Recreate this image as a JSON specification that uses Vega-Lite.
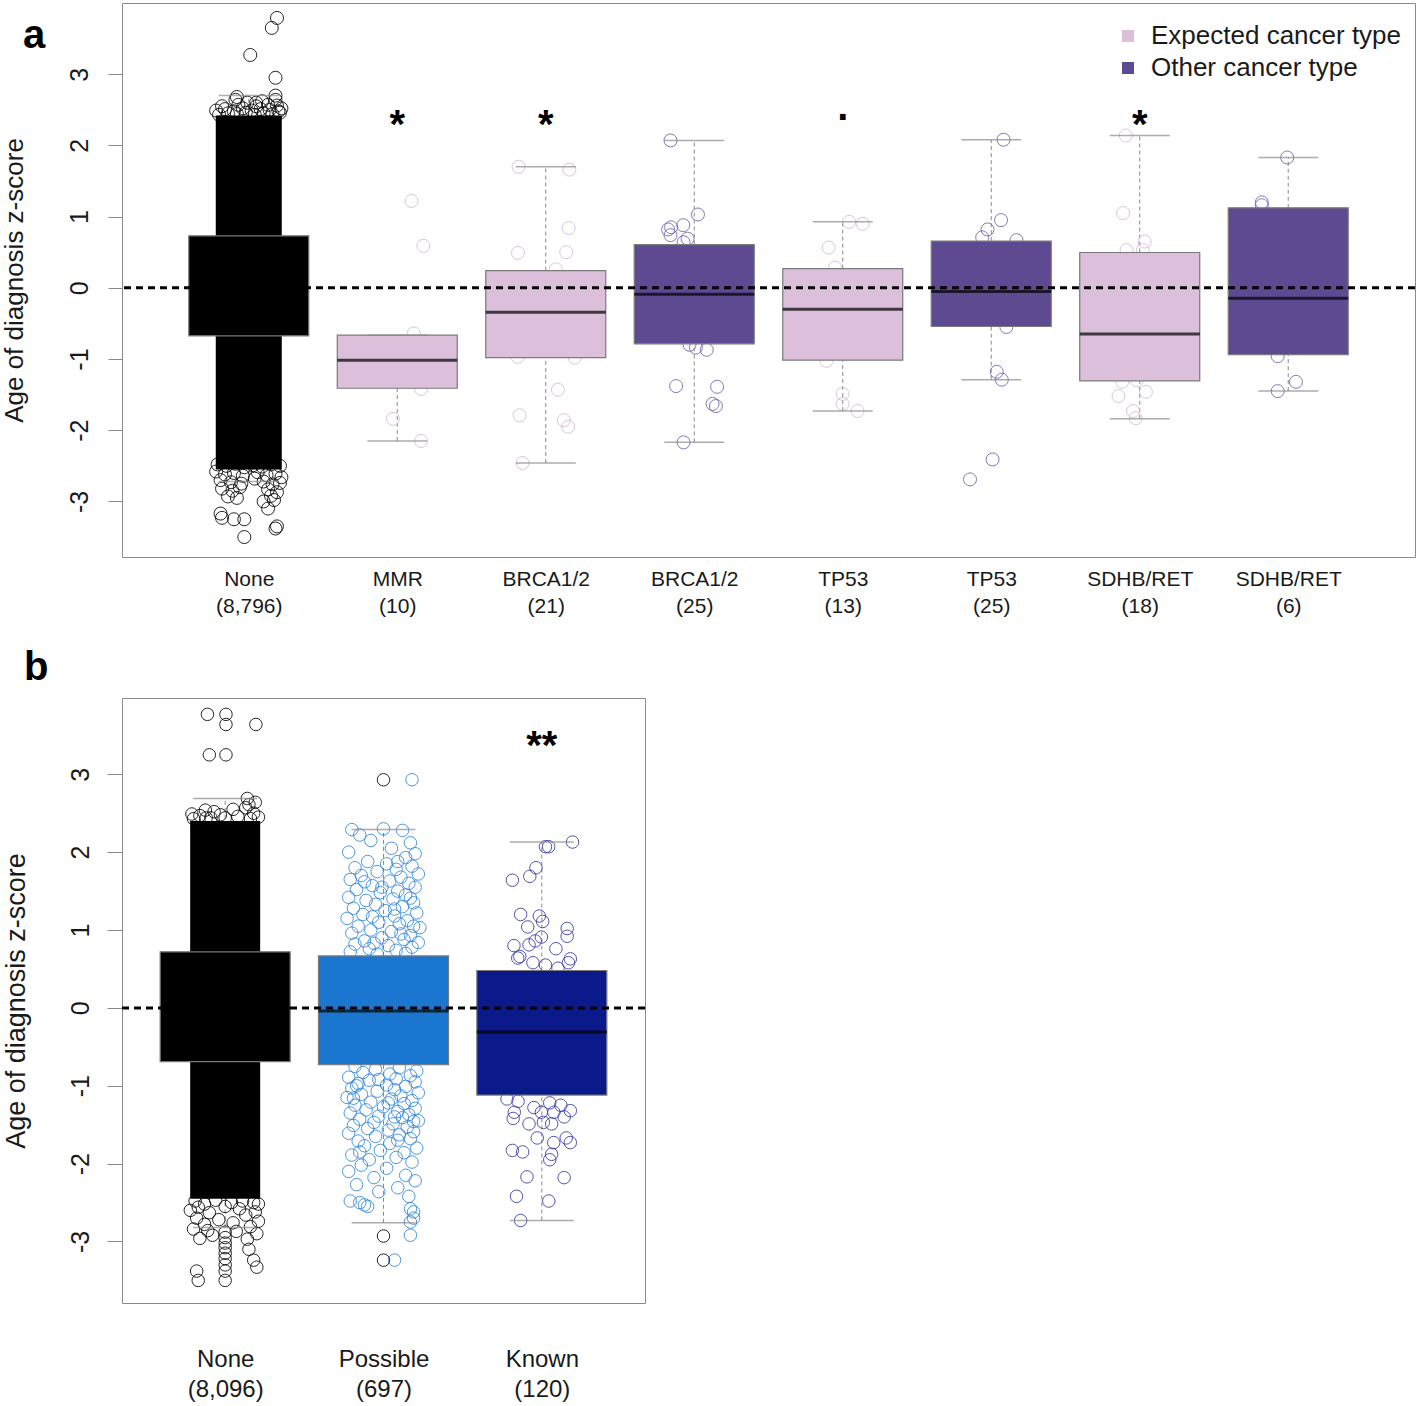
{
  "$schema": "https://vega.github.io/schema/vega-lite/v6.json",
  "padding": {"left": 0, "top": 2, "right": 0, "bottom": 0},
  "background": "white",
  "columns": 1,
  "bounds": "full",
  "spacing": 30,
  "resolve": {"scale": {"x": "independent", "y": "independent", "fill": "independent", "stroke": "independent"}, "legend": {"fill": "independent", "stroke": "independent"}},
  "config": {
    "font": "Liberation Sans",
    "view": {"stroke": "#8a8a8a", "strokeWidth": 1},
    "axis": {"grid": false, "domain": false, "labelColor": "#1a1a1a", "titleColor": "#1a1a1a", "tickColor": "#8a8a8a", "labelFont": "Liberation Sans", "titleFont": "Liberation Sans", "titleFontWeight": "normal", "labelFlush": false, "labelOverlap": false, "labelBound": false},
    "legend": {"padding": 0},
    "title": {"font": "Liberation Sans", "color": "#000000"}
  },
  "datasets": {
    "boxesA": [
      {"x": 1, "kind": "None", "q1": -0.674, "med": 0.0, "q3": 0.73, "lo": -2.72, "hi": 2.70},
      {"x": 2, "kind": "Expected cancer type", "q1": -1.41, "med": -1.016, "q3": -0.665, "lo": -2.15, "hi": -0.665},
      {"x": 3, "kind": "Expected cancer type", "q1": -0.979, "med": -0.342, "q3": 0.243, "lo": -2.46, "hi": 1.70},
      {"x": 4, "kind": "Other cancer type", "q1": -0.787, "med": -0.089, "q3": 0.608, "lo": -2.17, "hi": 2.07},
      {"x": 5, "kind": "Expected cancer type", "q1": -1.016, "med": -0.30, "q3": 0.271, "lo": -1.73, "hi": 0.927},
      {"x": 6, "kind": "Other cancer type", "q1": -0.543, "med": -0.052, "q3": 0.656, "lo": -1.29, "hi": 2.08},
      {"x": 7, "kind": "Expected cancer type", "q1": -1.306, "med": -0.65, "q3": 0.496, "lo": -1.84, "hi": 2.14},
      {"x": 8, "kind": "Other cancer type", "q1": -0.94, "med": -0.145, "q3": 1.124, "lo": -1.45, "hi": 1.83}
    ],
    "coreA": [{"x": 1, "lo": -2.55, "hi": 2.42}],
    "pointsA": [
      {"x": 1.19, "v": 3.79, "type": "None"}, {"x": 1.155, "v": 3.65, "type": "None"}, {"x": 1.01, "v": 3.27, "type": "None"}, {"x": 1.18, "v": 2.95, "type": "None"}, {"x": 1.18, "v": 2.70, "type": "None"},
      {"x": 0.80, "v": 2.43, "type": "None"}, {"x": 0.86, "v": 2.45, "type": "None"}, {"x": 0.92, "v": 2.44, "type": "None"}, {"x": 0.98, "v": 2.46, "type": "None"},
      {"x": 1.04, "v": 2.43, "type": "None"}, {"x": 1.10, "v": 2.45, "type": "None"}, {"x": 1.16, "v": 2.44, "type": "None"}, {"x": 1.21, "v": 2.46, "type": "None"},
      {"x": 0.78, "v": 2.49, "type": "None"}, {"x": 0.84, "v": 2.51, "type": "None"}, {"x": 0.90, "v": 2.48, "type": "None"}, {"x": 0.96, "v": 2.52, "type": "None"},
      {"x": 1.02, "v": 2.49, "type": "None"}, {"x": 1.08, "v": 2.51, "type": "None"}, {"x": 1.14, "v": 2.50, "type": "None"}, {"x": 1.20, "v": 2.48, "type": "None"},
      {"x": 0.82, "v": 2.55, "type": "None"}, {"x": 0.93, "v": 2.57, "type": "None"}, {"x": 1.05, "v": 2.55, "type": "None"}, {"x": 1.13, "v": 2.57, "type": "None"},
      {"x": 1.19, "v": 2.56, "type": "None"}, {"x": 0.99, "v": 2.60, "type": "None"}, {"x": 1.09, "v": 2.62, "type": "None"}, {"x": 0.91, "v": 2.64, "type": "None"},
      {"x": 1.18, "v": 2.64, "type": "None"}, {"x": 0.92, "v": 2.68, "type": "None"}, {"x": 1.05, "v": 2.60, "type": "None"}, {"x": 1.22, "v": 2.52, "type": "None"},
      {"x": 0.79, "v": -2.48, "type": "None"}, {"x": 0.85, "v": -2.50, "type": "None"}, {"x": 0.91, "v": -2.47, "type": "None"}, {"x": 0.97, "v": -2.52, "type": "None"},
      {"x": 1.03, "v": -2.49, "type": "None"}, {"x": 1.09, "v": -2.51, "type": "None"}, {"x": 1.15, "v": -2.48, "type": "None"}, {"x": 1.21, "v": -2.50, "type": "None"},
      {"x": 0.78, "v": -2.58, "type": "None"}, {"x": 0.84, "v": -2.62, "type": "None"}, {"x": 0.90, "v": -2.60, "type": "None"}, {"x": 0.96, "v": -2.64, "type": "None"},
      {"x": 1.06, "v": -2.59, "type": "None"}, {"x": 1.12, "v": -2.63, "type": "None"}, {"x": 1.18, "v": -2.61, "type": "None"}, {"x": 1.22, "v": -2.66, "type": "None"},
      {"x": 0.81, "v": -2.70, "type": "None"}, {"x": 0.88, "v": -2.73, "type": "None"}, {"x": 0.95, "v": -2.75, "type": "None"}, {"x": 1.10, "v": -2.72, "type": "None"},
      {"x": 1.16, "v": -2.76, "type": "None"}, {"x": 1.21, "v": -2.74, "type": "None"}, {"x": 0.82, "v": -2.82, "type": "None"}, {"x": 0.89, "v": -2.85, "type": "None"},
      {"x": 0.94, "v": -2.80, "type": "None"}, {"x": 1.13, "v": -2.83, "type": "None"}, {"x": 1.19, "v": -2.87, "type": "None"}, {"x": 0.86, "v": -2.93, "type": "None"},
      {"x": 0.92, "v": -2.95, "type": "None"}, {"x": 1.15, "v": -2.92, "type": "None"}, {"x": 1.17, "v": -2.98, "type": "None"}, {"x": 1.10, "v": -3.0, "type": "None"},
      {"x": 1.13, "v": -3.10, "type": "None"}, {"x": 0.81, "v": -3.17, "type": "None"}, {"x": 0.82, "v": -3.23, "type": "None"}, {"x": 0.90, "v": -3.25, "type": "None"},
      {"x": 0.97, "v": -3.25, "type": "None"}, {"x": 1.19, "v": -3.35, "type": "None"}, {"x": 1.18, "v": -3.38, "type": "None"}, {"x": 0.97, "v": -3.50, "type": "None"},
      {"x": 1.04, "v": -2.68, "type": "None"},
      {"x": 2.096, "v": 1.22, "type": "Expected cancer type"}, {"x": 2.176, "v": 0.59, "type": "Expected cancer type"}, {"x": 2.111, "v": -0.64, "type": "Expected cancer type"},
      {"x": 2.16, "v": -1.42, "type": "Expected cancer type"}, {"x": 1.971, "v": -1.84, "type": "Expected cancer type"}, {"x": 2.16, "v": -2.15, "type": "Expected cancer type"},
      {"x": 2.08, "v": -1.02, "type": "Expected cancer type"}, {"x": 1.95, "v": -0.9, "type": "Expected cancer type"}, {"x": 2.05, "v": -1.2, "type": "Expected cancer type"}, {"x": 1.9, "v": -1.3, "type": "Expected cancer type"},
      {"x": 2.817, "v": 1.70, "type": "Expected cancer type"}, {"x": 3.159, "v": 1.66, "type": "Expected cancer type"}, {"x": 3.154, "v": 0.84, "type": "Expected cancer type"},
      {"x": 2.813, "v": 0.49, "type": "Expected cancer type"}, {"x": 3.138, "v": 0.50, "type": "Expected cancer type"}, {"x": 3.068, "v": 0.26, "type": "Expected cancer type"},
      {"x": 3.195, "v": -0.98, "type": "Expected cancer type"}, {"x": 2.811, "v": -0.97, "type": "Expected cancer type"}, {"x": 3.082, "v": -1.43, "type": "Expected cancer type"},
      {"x": 2.824, "v": -1.79, "type": "Expected cancer type"}, {"x": 3.122, "v": -1.86, "type": "Expected cancer type"}, {"x": 3.151, "v": -1.95, "type": "Expected cancer type"},
      {"x": 2.844, "v": -2.46, "type": "Expected cancer type"},
      {"x": 3.84, "v": 2.07, "type": "Other cancer type"}, {"x": 4.025, "v": 1.03, "type": "Other cancer type"}, {"x": 3.926, "v": 0.88, "type": "Other cancer type"},
      {"x": 3.824, "v": 0.82, "type": "Other cancer type"}, {"x": 3.844, "v": 0.85, "type": "Other cancer type"}, {"x": 3.84, "v": 0.74, "type": "Other cancer type"},
      {"x": 3.955, "v": 0.69, "type": "Other cancer type"}, {"x": 3.928, "v": 0.64, "type": "Other cancer type"}, {"x": 3.968, "v": -0.80, "type": "Other cancer type"},
      {"x": 4.011, "v": -0.84, "type": "Other cancer type"}, {"x": 4.084, "v": -0.87, "type": "Other cancer type"}, {"x": 3.878, "v": -1.38, "type": "Other cancer type"},
      {"x": 4.154, "v": -1.39, "type": "Other cancer type"}, {"x": 4.123, "v": -1.63, "type": "Other cancer type"}, {"x": 4.146, "v": -1.66, "type": "Other cancer type"},
      {"x": 3.928, "v": -2.17, "type": "Other cancer type"},
      {"x": 5.043, "v": 0.927, "type": "Expected cancer type"}, {"x": 5.134, "v": 0.90, "type": "Expected cancer type"}, {"x": 4.905, "v": 0.566, "type": "Expected cancer type"},
      {"x": 4.948, "v": 0.285, "type": "Expected cancer type"}, {"x": 4.891, "v": -1.025, "type": "Expected cancer type"}, {"x": 4.999, "v": -1.49, "type": "Expected cancer type"},
      {"x": 4.999, "v": -1.63, "type": "Expected cancer type"}, {"x": 5.10, "v": -1.73, "type": "Expected cancer type"},
      {"x": 6.083, "v": 2.08, "type": "Other cancer type"}, {"x": 6.066, "v": 0.95, "type": "Other cancer type"}, {"x": 5.975, "v": 0.82, "type": "Other cancer type"},
      {"x": 5.939, "v": 0.71, "type": "Other cancer type"}, {"x": 6.17, "v": 0.67, "type": "Other cancer type"}, {"x": 6.102, "v": -0.55, "type": "Other cancer type"},
      {"x": 6.037, "v": -1.18, "type": "Other cancer type"}, {"x": 6.071, "v": -1.29, "type": "Other cancer type"}, {"x": 6.009, "v": -2.41, "type": "Other cancer type"},
      {"x": 5.857, "v": -2.69, "type": "Other cancer type"},
      {"x": 6.906, "v": 2.14, "type": "Expected cancer type"}, {"x": 6.888, "v": 1.05, "type": "Expected cancer type"}, {"x": 7.033, "v": 0.65, "type": "Expected cancer type"},
      {"x": 6.911, "v": 0.53, "type": "Expected cancer type"}, {"x": 7.02, "v": 0.53, "type": "Expected cancer type"}, {"x": 6.882, "v": -1.32, "type": "Expected cancer type"},
      {"x": 6.98, "v": -1.30, "type": "Expected cancer type"}, {"x": 6.857, "v": -1.52, "type": "Expected cancer type"}, {"x": 7.042, "v": -1.46, "type": "Expected cancer type"},
      {"x": 6.955, "v": -1.73, "type": "Expected cancer type"}, {"x": 6.973, "v": -1.83, "type": "Expected cancer type"},
      {"x": 7.993, "v": 1.83, "type": "Other cancer type"}, {"x": 7.822, "v": 1.20, "type": "Other cancer type"}, {"x": 7.822, "v": 1.16, "type": "Other cancer type"},
      {"x": 7.929, "v": -0.96, "type": "Other cancer type"}, {"x": 8.052, "v": -1.32, "type": "Other cancer type"}, {"x": 7.929, "v": -1.45, "type": "Other cancer type"}
    ],
    "starsA": [
      {"x": 2, "v": 2.1, "t": "*"}, {"x": 3, "v": 2.1, "t": "*"}, {"x": 5, "v": 2.35, "t": "."}, {"x": 7, "v": 2.1, "t": "*"}
    ],
    "boxesB": [
      {"x": 1, "kind": "None", "q1": -0.69, "med": 0.0, "q3": 0.72, "lo": -2.82, "hi": 2.69},
      {"x": 2, "kind": "Possible", "q1": -0.73, "med": -0.04, "q3": 0.668, "lo": -2.76, "hi": 2.29},
      {"x": 3, "kind": "Known", "q1": -1.12, "med": -0.31, "q3": 0.48, "lo": -2.73, "hi": 2.13}
    ],
    "coreB": [{"x": 1, "lo": -2.45, "hi": 2.40}],
    "pointsB": [
      {"x": 0.888, "v": 3.77, "type": "None"}, {"x": 1.005, "v": 3.77, "type": "None"}, {"x": 1.005, "v": 3.64, "type": "None"}, {"x": 1.194, "v": 3.64, "type": "None"},
      {"x": 0.90, "v": 3.25, "type": "None"}, {"x": 1.005, "v": 3.25, "type": "None"}, {"x": 1.14, "v": 2.69, "type": "None"}, {"x": 1.19, "v": 2.64, "type": "None"},
      {"x": 1.15, "v": 2.61, "type": "None"}, {"x": 1.13, "v": 2.57, "type": "None"}, {"x": 0.875, "v": 2.54, "type": "None"}, {"x": 0.88, "v": 2.44, "type": "None"},
      {"x": 0.91, "v": 2.44, "type": "None"}, {"x": 1.05, "v": 2.55, "type": "None"}, {"x": 0.80, "v": 2.43, "type": "None"}, {"x": 1.21, "v": 2.45, "type": "None"},
      {"x": 0.97, "v": 2.48, "type": "None"}, {"x": 1.08, "v": 2.46, "type": "None"}, {"x": 0.84, "v": 2.47, "type": "None"}, {"x": 1.18, "v": 2.50, "type": "None"},
      {"x": 1.0, "v": 2.44, "type": "None"}, {"x": 0.79, "v": 2.49, "type": "None"}, {"x": 1.16, "v": 2.43, "type": "None"}, {"x": 0.93, "v": 2.52, "type": "None"},
      {"x": 0.81, "v": -2.48, "type": "None"}, {"x": 1.18, "v": -2.50, "type": "None"}, {"x": 0.94, "v": -2.47, "type": "None"}, {"x": 1.21, "v": -2.52, "type": "None"},
      {"x": 0.87, "v": -2.52, "type": "None"}, {"x": 1.04, "v": -2.50, "type": "None"}, {"x": 1.11, "v": -2.48, "type": "None"}, {"x": 1.00, "v": -2.55, "type": "None"},
      {"x": 0.83, "v": -2.56, "type": "None"}, {"x": 1.09, "v": -2.58, "type": "None"}, {"x": 0.78, "v": -2.60, "type": "None"}, {"x": 1.19, "v": -2.62, "type": "None"},
      {"x": 0.90, "v": -2.63, "type": "None"}, {"x": 1.13, "v": -2.66, "type": "None"}, {"x": 0.82, "v": -2.70, "type": "None"}, {"x": 1.21, "v": -2.74, "type": "None"},
      {"x": 0.87, "v": -2.78, "type": "None"}, {"x": 1.16, "v": -2.81, "type": "None"}, {"x": 0.80, "v": -2.84, "type": "None"}, {"x": 1.07, "v": -2.87, "type": "None"},
      {"x": 1.20, "v": -2.90, "type": "None"}, {"x": 0.92, "v": -2.92, "type": "None"}, {"x": 0.84, "v": -2.96, "type": "None"}, {"x": 1.14, "v": -2.97, "type": "None"},
      {"x": 0.96, "v": -2.72, "type": "None"}, {"x": 1.05, "v": -2.76, "type": "None"}, {"x": 0.89, "v": -2.86, "type": "None"},
      {"x": 1.15, "v": -3.10, "type": "None"}, {"x": 1.18, "v": -3.24, "type": "None"}, {"x": 1.20, "v": -3.33, "type": "None"},
      {"x": 0.82, "v": -3.38, "type": "None"}, {"x": 0.83, "v": -3.50, "type": "None"}, {"x": 1.0, "v": -3.50, "type": "None"},
      {"x": 1.0, "v": -2.88, "type": "None"}, {"x": 1.0, "v": -2.95, "type": "None"}, {"x": 1.0, "v": -3.02, "type": "None"}, {"x": 1.0, "v": -3.08, "type": "None"},
      {"x": 1.0, "v": -3.15, "type": "None"}, {"x": 1.0, "v": -3.22, "type": "None"}, {"x": 1.0, "v": -3.30, "type": "None"}, {"x": 1.0, "v": -3.38, "type": "None"},
      {"x": 1.80, "v": 2.29, "type": "Possible"}, {"x": 2.0, "v": 2.30, "type": "Possible"}, {"x": 2.12, "v": 2.28, "type": "Possible"}, {"x": 1.85, "v": 2.22, "type": "Possible"},
      {"x": 1.92, "v": 2.15, "type": "Possible"}, {"x": 2.05, "v": 2.05, "type": "Possible"}, {"x": 1.78, "v": 2.0, "type": "Possible"}, {"x": 2.20, "v": 1.98, "type": "Possible"},
      {"x": 2.14, "v": 1.93, "type": "Possible"}, {"x": 1.90, "v": 1.88, "type": "Possible"}, {"x": 2.02, "v": 1.85, "type": "Possible"}, {"x": 2.18, "v": 1.82, "type": "Possible"},
      {"x": 1.82, "v": 1.80, "type": "Possible"}, {"x": 2.08, "v": 1.78, "type": "Possible"}, {"x": 1.96, "v": 1.75, "type": "Possible"}, {"x": 2.22, "v": 1.72, "type": "Possible"},
      {"x": 1.86, "v": 1.70, "type": "Possible"}, {"x": 2.11, "v": 1.68, "type": "Possible"}, {"x": 1.79, "v": 1.65, "type": "Possible"}, {"x": 2.04, "v": 1.63, "type": "Possible"},
      {"x": 2.16, "v": 1.60, "type": "Possible"}, {"x": 1.93, "v": 1.57, "type": "Possible"}, {"x": 2.20, "v": 1.55, "type": "Possible"}, {"x": 1.83, "v": 1.52, "type": "Possible"},
      {"x": 2.09, "v": 1.50, "type": "Possible"}, {"x": 1.98, "v": 1.48, "type": "Possible"}, {"x": 2.14, "v": 1.45, "type": "Possible"}, {"x": 1.78, "v": 1.42, "type": "Possible"},
      {"x": 2.06, "v": 1.40, "type": "Possible"}, {"x": 1.89, "v": 1.38, "type": "Possible"}, {"x": 2.19, "v": 1.35, "type": "Possible"}, {"x": 1.95, "v": 1.33, "type": "Possible"},
      {"x": 2.12, "v": 1.30, "type": "Possible"}, {"x": 1.81, "v": 1.28, "type": "Possible"}, {"x": 2.01, "v": 1.25, "type": "Possible"}, {"x": 2.21, "v": 1.22, "type": "Possible"},
      {"x": 1.87, "v": 1.20, "type": "Possible"}, {"x": 2.07, "v": 1.18, "type": "Possible"}, {"x": 1.77, "v": 1.15, "type": "Possible"}, {"x": 2.15, "v": 1.12, "type": "Possible"},
      {"x": 1.97, "v": 1.10, "type": "Possible"}, {"x": 2.10, "v": 1.08, "type": "Possible"}, {"x": 1.84, "v": 1.05, "type": "Possible"}, {"x": 2.23, "v": 1.03, "type": "Possible"},
      {"x": 1.92, "v": 1.00, "type": "Possible"}, {"x": 2.05, "v": 0.98, "type": "Possible"}, {"x": 1.80, "v": 0.96, "type": "Possible"}, {"x": 2.17, "v": 0.93, "type": "Possible"},
      {"x": 1.99, "v": 0.90, "type": "Possible"}, {"x": 2.13, "v": 0.88, "type": "Possible"}, {"x": 1.88, "v": 0.86, "type": "Possible"}, {"x": 2.22, "v": 0.84, "type": "Possible"},
      {"x": 1.82, "v": 0.82, "type": "Possible"}, {"x": 2.03, "v": 0.80, "type": "Possible"}, {"x": 2.18, "v": 0.78, "type": "Possible"}, {"x": 1.91, "v": 0.76, "type": "Possible"},
      {"x": 2.08, "v": 0.74, "type": "Possible"}, {"x": 1.79, "v": 0.72, "type": "Possible"}, {"x": 2.14, "v": 0.70, "type": "Possible"}, {"x": 1.96, "v": 0.69, "type": "Possible"},
      {"x": 1.88, "v": 1.62, "type": "Possible"}, {"x": 2.17, "v": 1.41, "type": "Possible"}, {"x": 1.93, "v": 1.17, "type": "Possible"}, {"x": 2.11, "v": 0.95, "type": "Possible"},
      {"x": 2.09, "v": 1.88, "type": "Possible"}, {"x": 1.99, "v": 1.55, "type": "Possible"}, {"x": 2.07, "v": 1.27, "type": "Possible"}, {"x": 2.19, "v": 1.05, "type": "Possible"},
      {"x": 1.94, "v": 0.83, "type": "Possible"}, {"x": 2.17, "v": 2.12, "type": "Possible"}, {"x": 2.18, "v": 2.93, "type": "Possible"},
      {"x": 1.82, "v": -0.75, "type": "Possible"}, {"x": 2.10, "v": -0.77, "type": "Possible"}, {"x": 1.95, "v": -0.79, "type": "Possible"}, {"x": 2.21, "v": -0.81, "type": "Possible"},
      {"x": 1.87, "v": -0.83, "type": "Possible"}, {"x": 2.04, "v": -0.85, "type": "Possible"}, {"x": 2.17, "v": -0.87, "type": "Possible"}, {"x": 1.78, "v": -0.89, "type": "Possible"},
      {"x": 2.08, "v": -0.91, "type": "Possible"}, {"x": 1.91, "v": -0.93, "type": "Possible"}, {"x": 2.20, "v": -0.95, "type": "Possible"}, {"x": 1.84, "v": -0.97, "type": "Possible"},
      {"x": 2.02, "v": -0.99, "type": "Possible"}, {"x": 2.14, "v": -1.01, "type": "Possible"}, {"x": 1.80, "v": -1.03, "type": "Possible"}, {"x": 2.07, "v": -1.05, "type": "Possible"},
      {"x": 1.96, "v": -1.07, "type": "Possible"}, {"x": 2.22, "v": -1.09, "type": "Possible"}, {"x": 1.86, "v": -1.11, "type": "Possible"}, {"x": 2.11, "v": -1.13, "type": "Possible"},
      {"x": 1.77, "v": -1.15, "type": "Possible"}, {"x": 2.05, "v": -1.17, "type": "Possible"}, {"x": 2.18, "v": -1.19, "type": "Possible"}, {"x": 1.92, "v": -1.21, "type": "Possible"},
      {"x": 2.13, "v": -1.23, "type": "Possible"}, {"x": 1.82, "v": -1.25, "type": "Possible"}, {"x": 2.0, "v": -1.27, "type": "Possible"}, {"x": 2.20, "v": -1.29, "type": "Possible"},
      {"x": 1.89, "v": -1.31, "type": "Possible"}, {"x": 2.09, "v": -1.33, "type": "Possible"}, {"x": 1.79, "v": -1.35, "type": "Possible"}, {"x": 2.16, "v": -1.37, "type": "Possible"},
      {"x": 1.97, "v": -1.39, "type": "Possible"}, {"x": 2.12, "v": -1.41, "type": "Possible"}, {"x": 1.85, "v": -1.43, "type": "Possible"}, {"x": 2.22, "v": -1.45, "type": "Possible"},
      {"x": 1.94, "v": -1.47, "type": "Possible"}, {"x": 2.06, "v": -1.49, "type": "Possible"}, {"x": 1.81, "v": -1.51, "type": "Possible"}, {"x": 2.15, "v": -1.53, "type": "Possible"},
      {"x": 1.90, "v": -1.55, "type": "Possible"}, {"x": 2.03, "v": -1.57, "type": "Possible"}, {"x": 2.19, "v": -1.59, "type": "Possible"}, {"x": 1.78, "v": -1.61, "type": "Possible"},
      {"x": 2.10, "v": -1.63, "type": "Possible"}, {"x": 1.95, "v": -1.65, "type": "Possible"}, {"x": 2.17, "v": -1.68, "type": "Possible"}, {"x": 1.84, "v": -1.71, "type": "Possible"},
      {"x": 2.04, "v": -1.74, "type": "Possible"}, {"x": 1.88, "v": -1.77, "type": "Possible"}, {"x": 2.21, "v": -1.80, "type": "Possible"}, {"x": 1.98, "v": -1.83, "type": "Possible"},
      {"x": 2.13, "v": -1.86, "type": "Possible"}, {"x": 1.80, "v": -1.89, "type": "Possible"}, {"x": 2.08, "v": -1.92, "type": "Possible"}, {"x": 1.91, "v": -1.95, "type": "Possible"},
      {"x": 2.18, "v": -1.98, "type": "Possible"}, {"x": 1.86, "v": -2.02, "type": "Possible"}, {"x": 2.02, "v": -2.06, "type": "Possible"}, {"x": 1.78, "v": -2.10, "type": "Possible"},
      {"x": 2.14, "v": -2.15, "type": "Possible"}, {"x": 1.94, "v": -2.18, "type": "Possible"}, {"x": 2.20, "v": -2.22, "type": "Possible"}, {"x": 1.83, "v": -2.27, "type": "Possible"},
      {"x": 2.09, "v": -2.31, "type": "Possible"}, {"x": 1.97, "v": -2.36, "type": "Possible"}, {"x": 2.16, "v": -2.42, "type": "Possible"}, {"x": 1.79, "v": -2.48, "type": "Possible"},
      {"x": 1.85, "v": -2.50, "type": "Possible"}, {"x": 1.88, "v": -2.53, "type": "Possible"}, {"x": 1.90, "v": -2.55, "type": "Possible"}, {"x": 2.17, "v": -2.58, "type": "Possible"},
      {"x": 2.19, "v": -2.62, "type": "Possible"}, {"x": 2.19, "v": -2.70, "type": "Possible"}, {"x": 2.17, "v": -2.75, "type": "Possible"}, {"x": 2.17, "v": -2.92, "type": "Possible"},
      {"x": 2.07, "v": -3.24, "type": "Possible"}, {"x": 1.83, "v": -1.00, "type": "Possible"}, {"x": 2.03, "v": -1.22, "type": "Possible"}, {"x": 2.19, "v": -1.46, "type": "Possible"},
      {"x": 2.09, "v": -1.70, "type": "Possible"}, {"x": 1.97, "v": -0.92, "type": "Possible"}, {"x": 1.81, "v": -1.16, "type": "Possible"}, {"x": 2.07, "v": -1.40, "type": "Possible"},
      {"x": 1.85, "v": -1.85, "type": "Possible"},
      {"x": 2.0, "v": 2.93, "type": "Outlier"}, {"x": 2.0, "v": -2.93, "type": "Outlier"}, {"x": 2.0, "v": -3.24, "type": "Outlier"},
      {"x": 3.194, "v": 2.13, "type": "Known"}, {"x": 3.023, "v": 2.07, "type": "Known"}, {"x": 3.043, "v": 2.07, "type": "Known"}, {"x": 2.814, "v": 1.64, "type": "Known"},
      {"x": 2.924, "v": 1.69, "type": "Known"}, {"x": 2.963, "v": 1.80, "type": "Known"}, {"x": 2.866, "v": 1.20, "type": "Known"}, {"x": 2.984, "v": 1.18, "type": "Known"},
      {"x": 3.005, "v": 1.11, "type": "Known"}, {"x": 3.16, "v": 1.02, "type": "Known"}, {"x": 3.16, "v": 0.92, "type": "Known"}, {"x": 2.911, "v": 1.04, "type": "Known"},
      {"x": 2.824, "v": 0.80, "type": "Known"}, {"x": 2.861, "v": 0.66, "type": "Known"}, {"x": 2.848, "v": 0.64, "type": "Known"}, {"x": 2.919, "v": 0.81, "type": "Known"},
      {"x": 2.958, "v": 0.86, "type": "Known"}, {"x": 2.997, "v": 0.91, "type": "Known"}, {"x": 3.089, "v": 0.76, "type": "Known"}, {"x": 3.18, "v": 0.63, "type": "Known"},
      {"x": 3.168, "v": 0.58, "type": "Known"}, {"x": 2.944, "v": 0.58, "type": "Known"}, {"x": 3.023, "v": 0.55, "type": "Known"}, {"x": 3.102, "v": 0.51, "type": "Known"},
      {"x": 2.78, "v": -1.17, "type": "Known"}, {"x": 2.997, "v": -1.34, "type": "Known"}, {"x": 2.826, "v": -1.34, "type": "Known"}, {"x": 2.819, "v": -1.42, "type": "Known"},
      {"x": 3.076, "v": -1.34, "type": "Known"}, {"x": 3.18, "v": -1.32, "type": "Known"}, {"x": 3.141, "v": -1.40, "type": "Known"}, {"x": 2.919, "v": -1.49, "type": "Known"},
      {"x": 3.01, "v": -1.47, "type": "Known"}, {"x": 3.062, "v": -1.49, "type": "Known"}, {"x": 3.154, "v": -1.67, "type": "Known"}, {"x": 3.18, "v": -1.73, "type": "Known"},
      {"x": 3.075, "v": -1.73, "type": "Known"}, {"x": 2.971, "v": -1.67, "type": "Known"}, {"x": 2.814, "v": -1.83, "type": "Known"}, {"x": 2.879, "v": -1.85, "type": "Known"},
      {"x": 3.062, "v": -1.88, "type": "Known"}, {"x": 3.05, "v": -1.95, "type": "Known"}, {"x": 2.906, "v": -2.17, "type": "Known"}, {"x": 3.141, "v": -2.18, "type": "Known"},
      {"x": 2.84, "v": -2.42, "type": "Known"}, {"x": 3.044, "v": -2.48, "type": "Known"}, {"x": 2.866, "v": -2.73, "type": "Known"},
      {"x": 2.85, "v": -1.20, "type": "Known"}, {"x": 3.12, "v": -1.25, "type": "Known"}, {"x": 2.95, "v": -1.28, "type": "Known"}, {"x": 3.05, "v": -1.22, "type": "Known"}
    ],
    "starsB": [{"x": 3, "v": 3.2, "t": "**"}]
  },
  "concat": [
    {
      "width": 1293,
      "height": 554,
      "title": {"text": "a", "anchor": "start", "frame": "bounds", "fontSize": 40, "fontWeight": "bold", "offset": -85, "baseline": "alphabetic", "dx": 22},
      "layer": [
        {
          "data": {"name": "boxesA"},
          "mark": {"type": "rule", "color": "#8a8a8a", "strokeDash": [4, 3], "strokeWidth": 1},
          "encoding": {
            "x": {"field": "x", "type": "quantitative", "title": null, "scale": {"domain": [0.18, 8.82], "nice": false, "zero": false},
              "axis": {"values": [1, 2, 3, 4, 5, 6, 7, 8], "ticks": false, "labelExpr": "split(['None|(8,796)','MMR|(10)','BRCA1/2|(21)','BRCA1/2|(25)','TP53|(13)','TP53|(25)','SDHB/RET|(18)','SDHB/RET|(6)'][datum.value - 1], '|')", "labelFontSize": 21, "labelLineHeight": 27, "labelBaseline": "top", "labelAlign": "center", "labelAngle": 0, "labelPadding": 11}},
            "y": {"field": "q3", "type": "quantitative", "title": "Age of diagnosis z-score", "scale": {"domain": [-3.78, 4.0], "nice": false, "zero": false},
              "axis": {"values": [-3, -2, -1, 0, 1, 2, 3], "labelExpr": "'' + datum.value", "labelAngle": 270, "labelAlign": "center", "labelBaseline": "alphabetic", "labelFontSize": 25, "tickSize": 14, "labelPadding": 21, "titleFontSize": 26, "titlePadding": 45, "titleBaseline": "alphabetic"}},
            "y2": {"field": "hi"}
          }
        },
        {
          "data": {"name": "boxesA"},
          "mark": {"type": "rule", "color": "#8a8a8a", "strokeDash": [4, 3], "strokeWidth": 1},
          "encoding": {
            "x": {"field": "x", "type": "quantitative", "title": null},
            "y": {"field": "lo", "type": "quantitative", "title": "Age of diagnosis z-score"},
            "y2": {"field": "q1"}
          }
        },
        {
          "data": {"name": "coreA"},
          "mark": {"type": "bar", "width": 66, "color": "#000000"},
          "encoding": {
            "x": {"field": "x", "type": "quantitative", "title": null},
            "y": {"field": "lo", "type": "quantitative", "title": "Age of diagnosis z-score"},
            "y2": {"field": "hi"}
          }
        },
        {
          "data": {"name": "pointsA"},
          "mark": {"type": "point", "shape": "circle", "filled": false, "size": 169, "strokeWidth": 1, "opacity": 0.85},
          "encoding": {
            "x": {"field": "x", "type": "quantitative", "title": null},
            "y": {"field": "v", "type": "quantitative", "title": "Age of diagnosis z-score"},
            "stroke": {"field": "type", "type": "nominal", "legend": null, "scale": {"domain": ["None", "Expected cancer type", "Other cancer type"], "range": ["#000000", "#d8bad8", "#7262ad"]}}
          }
        },
        {
          "data": {"name": "boxesA"},
          "mark": {"type": "bar", "width": 120, "stroke": "#7a7a7a", "strokeWidth": 1.2},
          "encoding": {
            "x": {"field": "x", "type": "quantitative", "title": null},
            "y": {"field": "q1", "type": "quantitative", "title": "Age of diagnosis z-score"},
            "y2": {"field": "q3"},
            "fill": {"field": "kind", "type": "nominal", "scale": {"domain": ["Expected cancer type", "Other cancer type", "None"], "range": ["#dbbfdb", "#5e4a91", "#000000"]},
              "legend": {"values": ["Expected cancer type", "Other cancer type"], "title": null, "orient": "none", "legendX": 993, "legendY": 20, "symbolType": "square", "symbolSize": 144, "symbolStrokeWidth": 0, "labelFontSize": 26, "labelOffset": 10, "labelLimit": 500, "rowPadding": 6, "labelColor": "#1a1a1a", "labelFont": "Liberation Sans"}}
          }
        },
        {
          "data": {"name": "boxesA"},
          "mark": {"type": "tick", "orient": "horizontal", "size": 120, "thickness": 3, "color": "#000000"},
          "encoding": {
            "x": {"field": "x", "type": "quantitative", "title": null},
            "y": {"field": "med", "type": "quantitative", "title": "Age of diagnosis z-score"}
          }
        },
        {
          "data": {"name": "boxesA"},
          "mark": {"type": "tick", "orient": "horizontal", "size": 60, "thickness": 1.5, "color": "#8a8a8a"},
          "encoding": {
            "x": {"field": "x", "type": "quantitative", "title": null},
            "y": {"field": "hi", "type": "quantitative", "title": "Age of diagnosis z-score"}
          }
        },
        {
          "data": {"name": "boxesA"},
          "mark": {"type": "tick", "orient": "horizontal", "size": 60, "thickness": 1.5, "color": "#8a8a8a"},
          "encoding": {
            "x": {"field": "x", "type": "quantitative", "title": null},
            "y": {"field": "lo", "type": "quantitative", "title": "Age of diagnosis z-score"}
          }
        },
        {
          "data": {"values": [{}]},
          "mark": {"type": "rule", "strokeDash": [7, 5], "strokeWidth": 3, "color": "#000000"},
          "encoding": {"y": {"datum": 0}}
        },
        {
          "data": {"name": "starsA"},
          "mark": {"type": "text", "fontSize": 40, "fontWeight": "bold", "baseline": "alphabetic", "align": "center", "color": "#000000"},
          "encoding": {
            "x": {"field": "x", "type": "quantitative", "title": null},
            "y": {"field": "v", "type": "quantitative", "title": "Age of diagnosis z-score"},
            "text": {"field": "t"}
          }
        }
      ]
    },
    {
      "width": 523,
      "height": 605,
      "title": {"text": "b", "anchor": "start", "frame": "bounds", "fontSize": 40, "fontWeight": "bold", "offset": -22, "baseline": "alphabetic", "dx": 22},
      "layer": [
        {
          "data": {"name": "boxesB"},
          "mark": {"type": "rule", "color": "#8a8a8a", "strokeDash": [4, 3], "strokeWidth": 1},
          "encoding": {
            "x": {"field": "x", "type": "quantitative", "title": null, "scale": {"domain": [0.38, 3.62], "nice": false, "zero": false},
              "axis": {"values": [1, 2, 3], "ticks": false, "labelExpr": "split(['None|(8,096)','Possible|(697)','Known|(120)'][datum.value - 1], '|')", "labelFontSize": 24, "labelLineHeight": 30, "labelBaseline": "top", "labelAlign": "center", "labelAngle": 0, "labelPadding": 44}},
            "y": {"field": "q3", "type": "quantitative", "title": "Age of diagnosis z-score", "scale": {"domain": [-3.79, 3.98], "nice": false, "zero": false},
              "axis": {"values": [-3, -2, -1, 0, 1, 2, 3], "labelExpr": "'' + datum.value", "labelAngle": 270, "labelAlign": "center", "labelBaseline": "alphabetic", "labelFontSize": 25, "tickSize": 15, "labelPadding": 19, "titleFontSize": 27, "titlePadding": 44, "titleBaseline": "alphabetic"}},
            "y2": {"field": "hi"}
          }
        },
        {
          "data": {"name": "boxesB"},
          "mark": {"type": "rule", "color": "#8a8a8a", "strokeDash": [4, 3], "strokeWidth": 1},
          "encoding": {
            "x": {"field": "x", "type": "quantitative", "title": null},
            "y": {"field": "lo", "type": "quantitative", "title": "Age of diagnosis z-score"},
            "y2": {"field": "q1"}
          }
        },
        {
          "data": {"name": "coreB"},
          "mark": {"type": "bar", "width": 70, "color": "#000000"},
          "encoding": {
            "x": {"field": "x", "type": "quantitative", "title": null},
            "y": {"field": "lo", "type": "quantitative", "title": "Age of diagnosis z-score"},
            "y2": {"field": "hi"}
          }
        },
        {
          "data": {"name": "pointsB"},
          "mark": {"type": "point", "shape": "circle", "filled": false, "size": 156, "strokeWidth": 1, "opacity": 0.85},
          "encoding": {
            "x": {"field": "x", "type": "quantitative", "title": null},
            "y": {"field": "v", "type": "quantitative", "title": "Age of diagnosis z-score"},
            "stroke": {"field": "type", "type": "nominal", "legend": null, "scale": {"domain": ["None", "Possible", "Known", "Outlier"], "range": ["#000000", "#2f86de", "#3535a5", "#000000"]}}
          }
        },
        {
          "data": {"name": "boxesB"},
          "mark": {"type": "bar", "width": 130, "stroke": "#7a7a7a", "strokeWidth": 1.2},
          "encoding": {
            "x": {"field": "x", "type": "quantitative", "title": null},
            "y": {"field": "q1", "type": "quantitative", "title": "Age of diagnosis z-score"},
            "y2": {"field": "q3"},
            "fill": {"field": "kind", "type": "nominal", "legend": null, "scale": {"domain": ["None", "Possible", "Known"], "range": ["#000000", "#1a76cf", "#0a1a8a"]}}
          }
        },
        {
          "data": {"name": "boxesB"},
          "mark": {"type": "tick", "orient": "horizontal", "size": 130, "thickness": 3, "color": "#000000"},
          "encoding": {
            "x": {"field": "x", "type": "quantitative", "title": null},
            "y": {"field": "med", "type": "quantitative", "title": "Age of diagnosis z-score"}
          }
        },
        {
          "data": {"name": "boxesB"},
          "mark": {"type": "tick", "orient": "horizontal", "size": 64, "thickness": 1.5, "color": "#8a8a8a"},
          "encoding": {
            "x": {"field": "x", "type": "quantitative", "title": null},
            "y": {"field": "hi", "type": "quantitative", "title": "Age of diagnosis z-score"}
          }
        },
        {
          "data": {"name": "boxesB"},
          "mark": {"type": "tick", "orient": "horizontal", "size": 64, "thickness": 1.5, "color": "#8a8a8a"},
          "encoding": {
            "x": {"field": "x", "type": "quantitative", "title": null},
            "y": {"field": "lo", "type": "quantitative", "title": "Age of diagnosis z-score"}
          }
        },
        {
          "data": {"values": [{}]},
          "mark": {"type": "rule", "strokeDash": [7, 5], "strokeWidth": 3, "color": "#000000"},
          "encoding": {"y": {"datum": 0}}
        },
        {
          "data": {"name": "starsB"},
          "mark": {"type": "text", "fontSize": 40, "fontWeight": "bold", "baseline": "alphabetic", "align": "center", "color": "#000000"},
          "encoding": {
            "x": {"field": "x", "type": "quantitative", "title": null},
            "y": {"field": "v", "type": "quantitative", "title": "Age of diagnosis z-score"},
            "text": {"field": "t"}
          }
        }
      ]
    }
  ]
}
